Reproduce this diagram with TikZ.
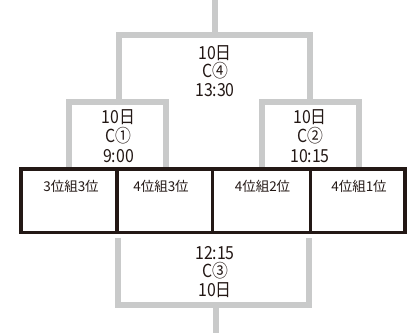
\documentclass[tikz,border=0pt]{standalone}
\usepackage{fontspec}
\setmainfont{Noto Sans CJK JP}
\newfontfamily\lblfont{Noto Sans CJK JP}[FakeStretch=0.88]
\definecolor{brk}{RGB}{201,202,202}
\definecolor{ink}{RGB}{35,24,21}
\begin{document}
\begin{tikzpicture}[x=1pt,y=-1pt,
  bracket/.style={draw=brk,line width=6pt,line join=miter},
  cellbox/.style={draw=ink,line width=3.3pt,minimum height=63.5pt,inner sep=0pt},
  lbl/.style={align=center,font=\lblfont\fontsize{18}{18.5}\selectfont,text=ink,inner sep=0pt},
  celltxt/.style={font=\fontsize{13.5}{16}\selectfont,text=ink,inner sep=0pt}]
\useasboundingbox (0,0) rectangle (414,333);
% brackets
\coordinate (topin) at (215,0);
\coordinate (topbar) at (215,34.5);
\coordinate (botout) at (215.5,333);
\coordinate (botbar) at (215.5,305);
\draw[bracket] (topin) -- (topbar);
\draw[bracket] (119,101.5) -- (119,34.5) -- (309.5,34.5) -- (309.5,101.5);
\draw[bracket] (69,169) -- (69,101.5) -- (166,101.5) -- (166,169);
\draw[bracket] (261.5,169) -- (261.5,101.5) -- (358.5,101.5) -- (358.5,169);
\draw[bracket] (118,237.5) -- (118,305) -- (308.5,305) -- (308.5,237.5);
\draw[bracket] (botbar) -- (botout);
% table cells
\node[cellbox,minimum width=96pt] (c1) at (69,200.75) {};
\node[cellbox,minimum width=95.5pt] (c2) at (164.75,200.75) {};
\node[cellbox,minimum width=98pt] (c3) at (261.5,200.75) {};
\node[cellbox,minimum width=94.5pt] (c4) at (357.75,200.75) {};
\node[celltxt] (t1) at (71,186) {3位組3位};
\node[celltxt] (t2) at (161,186) {4位組3位};
\node[celltxt] (t3) at (262.5,186) {4位組2位};
\node[celltxt] (t4) at (359,186) {4位組1位};
% match labels
\node[lbl] (mTop) at (215,71) {10日\\C④\\13:30};
\node[lbl,font=\lblfont\fontsize{18}{19.5}\selectfont] (mL) at (118.5,136) {10日\\C①\\9:00};
\node[lbl,font=\lblfont\fontsize{18}{19.5}\selectfont] (mR) at (310,136) {10日\\C②\\10:15};
\node[lbl] (mBot) at (215,272) {12:15\\C③\\10日};
\end{tikzpicture}
\end{document}
